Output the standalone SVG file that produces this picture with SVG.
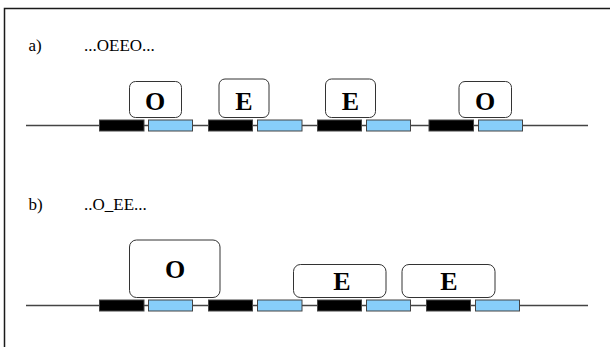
<svg xmlns="http://www.w3.org/2000/svg" width="610" height="347" viewBox="0 0 610 347">
<style>
.frame{fill:none;stroke:#1a1a1a;stroke-width:1.5}
.dna{stroke:#444;stroke-width:1.5;fill:none}
.blk{fill:#000;stroke:#444;stroke-width:1}
.blu{fill:#87cefa;stroke:#444;stroke-width:1}
.bx{fill:#fff;stroke:#333;stroke-width:1}
.lab{font-family:"Liberation Serif",serif;font-size:17px;fill:#000}
.big{font-family:"Liberation Serif",serif;font-size:26px;font-weight:bold;fill:#000;text-anchor:middle}
</style>
<rect class="frame" x="4.5" y="8.5" width="620" height="360"/>
<g id="labels">
<text class="lab" x="28.5" y="51">a)</text>
<text class="lab" x="84" y="51">...OEEO...</text>
<text class="lab" x="28.5" y="210">b)</text>
<text class="lab" x="84" y="210">..O_EE...</text>
</g>
<g id="connectors">
<line class="dna" x1="26" y1="125.5" x2="588" y2="125.5"/>
<line class="dna" x1="26" y1="305.5" x2="588" y2="305.5"/>
</g>
<g id="row-a-sites">
<rect class="blk" x="99.5" y="120" width="44.5" height="11"/>
<rect class="blu" x="148.5" y="120" width="44" height="11"/>
<rect class="blk" x="208.5" y="120" width="44" height="11"/>
<rect class="blu" x="257.5" y="120" width="44.5" height="11"/>
<rect class="blk" x="317.5" y="120" width="44" height="11"/>
<rect class="blu" x="366.5" y="120" width="44" height="11"/>
<rect class="blk" x="429" y="120" width="44.5" height="11"/>
<rect class="blu" x="478.5" y="120" width="44" height="11"/>
</g>
<g id="a-O1"><rect class="bx" x="129.5" y="81.5" width="52" height="36" rx="6"/><text class="big" x="155" y="109.5">O</text></g>
<g id="a-E1"><rect class="bx" x="219" y="79" width="50" height="38.5" rx="6"/><text class="big" x="244" y="109.5">E</text></g>
<g id="a-E2"><rect class="bx" x="325.5" y="79" width="50" height="38.5" rx="6"/><text class="big" x="350.5" y="109.5">E</text></g>
<g id="a-O2"><rect class="bx" x="459" y="81.5" width="52.5" height="36" rx="6"/><text class="big" x="485" y="109.5">O</text></g>
<g id="row-b-sites">
<rect class="blk" x="99.5" y="300" width="44.5" height="11"/>
<rect class="blu" x="148.5" y="300" width="44" height="11"/>
<rect class="blk" x="208.5" y="300" width="44" height="11"/>
<rect class="blu" x="257.5" y="300" width="44.5" height="11"/>
<rect class="blk" x="317.5" y="300" width="44" height="11"/>
<rect class="blu" x="366.5" y="300" width="44" height="11"/>
<rect class="blk" x="426.5" y="300" width="44" height="11"/>
<rect class="blu" x="475.5" y="300" width="44" height="11"/>
</g>
<g id="b-O"><rect class="bx" x="129.5" y="240" width="90.5" height="57.5" rx="7"/><text class="big" x="175" y="278">O</text></g>
<g id="b-E1"><rect class="bx" x="293.5" y="264.5" width="92.5" height="33" rx="7"/><text class="big" x="342" y="289.5">E</text></g>
<g id="b-E2"><rect class="bx" x="402" y="264.5" width="93" height="33" rx="7"/><text class="big" x="449" y="289.5">E</text></g>
</svg>
